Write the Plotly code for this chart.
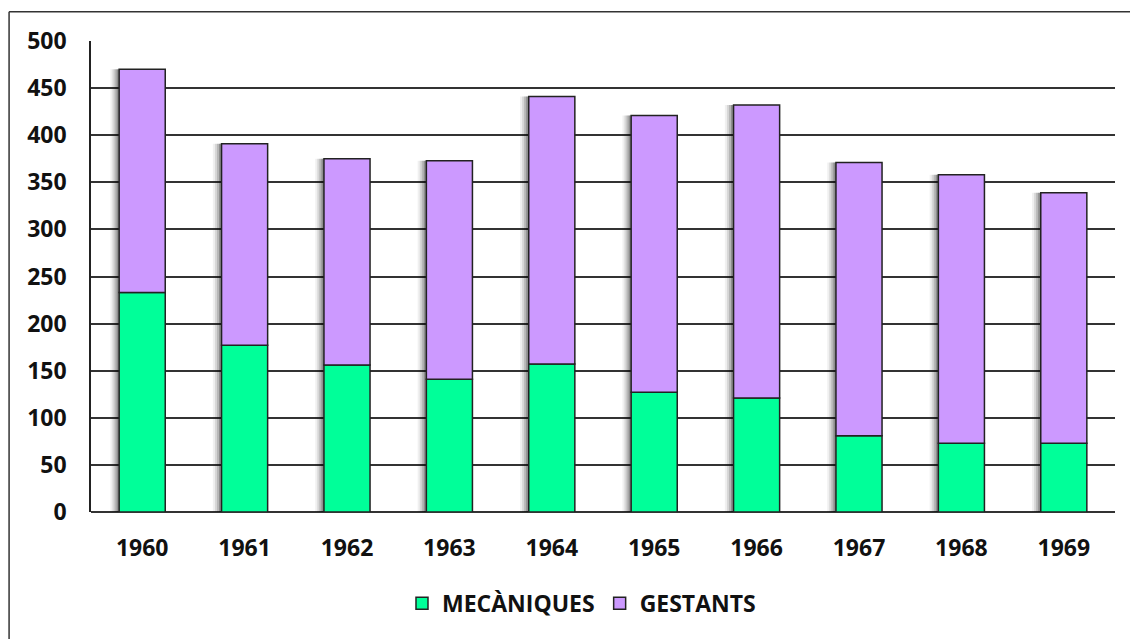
import plotly.graph_objects as go

years = ["1960", "1961", "1962", "1963", "1964", "1965", "1966", "1967", "1968", "1969"]
mecaniques = [233, 177, 156, 141, 157, 127, 121, 81, 73, 73]
gestants = [237, 214, 219, 232, 284, 294, 311, 290, 285, 266]
y_ticks = [0, 50, 100, 150, 200, 250, 300, 350, 400, 450, 500]

GREEN = "#00FF99"
PURPLE = "#CC99FF"
EDGE = "#222222"
FAMILY = "Open Sans, DejaVu Sans, sans-serif"
BOLD = dict(family=FAMILY, size=23, color="#111111", weight="bold")
BAR_W = 0.45

totals = [m + g for m, g in zip(mecaniques, gestants)]

fig = go.Figure()

# soft drop shadow to the left of each column
for shift, op in [(0.085, 0.06), (0.065, 0.10), (0.045, 0.15), (0.025, 0.22)]:
    fig.add_trace(go.Bar(
        x=years, y=totals, width=BAR_W, offset=-BAR_W / 2 - shift,
        marker=dict(color=f"rgba(0,0,0,{op})", line=dict(width=0)),
        showlegend=False, hoverinfo="skip",
    ))

fig.add_trace(go.Bar(
    x=years, y=mecaniques, name="MECÀNIQUES", width=BAR_W, offset=-BAR_W / 2,
    marker=dict(color=GREEN, line=dict(color=EDGE, width=1.5)),
))
fig.add_trace(go.Bar(
    x=years, y=gestants, base=mecaniques, name="GESTANTS", width=BAR_W, offset=-BAR_W / 2,
    marker=dict(color=PURPLE, line=dict(color=EDGE, width=1.5)),
))

fig.update_layout(
    width=1130, height=639,
    barmode="overlay",
    paper_bgcolor="white", plot_bgcolor="white",
    margin=dict(l=91, r=15, t=41, b=127, autoexpand=False),
    font=BOLD,
    xaxis=dict(
        type="category", showgrid=False, showline=False, ticks="",
        tickfont=BOLD, ticklabelstandoff=20, automargin=False,
    ),
    yaxis=dict(
        range=[0, 500], tickvals=y_ticks, showgrid=True,
        gridcolor="#333333", gridwidth=1.5,
        zeroline=True, zerolinecolor="#333333", zerolinewidth=1.5,
        showline=True, linecolor="#222222", linewidth=1.5,
        ticks="", ticklabelstandoff=18, tickfont=BOLD, automargin=False,
    ),
    legend=dict(
        orientation="h", x=0.479, xanchor="center",
        yref="container", y=0.056, yanchor="middle",
        font=BOLD, traceorder="normal", itemwidth=30,
    ),
    shapes=[
        dict(type="line", xref="paper", yref="paper", x0=-0.080, x1=1.02, y0=1.062, y1=1.062,
             line=dict(color="#333333", width=1.5)),
        dict(type="line", xref="paper", yref="paper", x0=-0.080, x1=-0.080, y0=1.062, y1=-0.30,
             line=dict(color="#333333", width=1.5)),
    ],
)

fig.write_html("out.html")
